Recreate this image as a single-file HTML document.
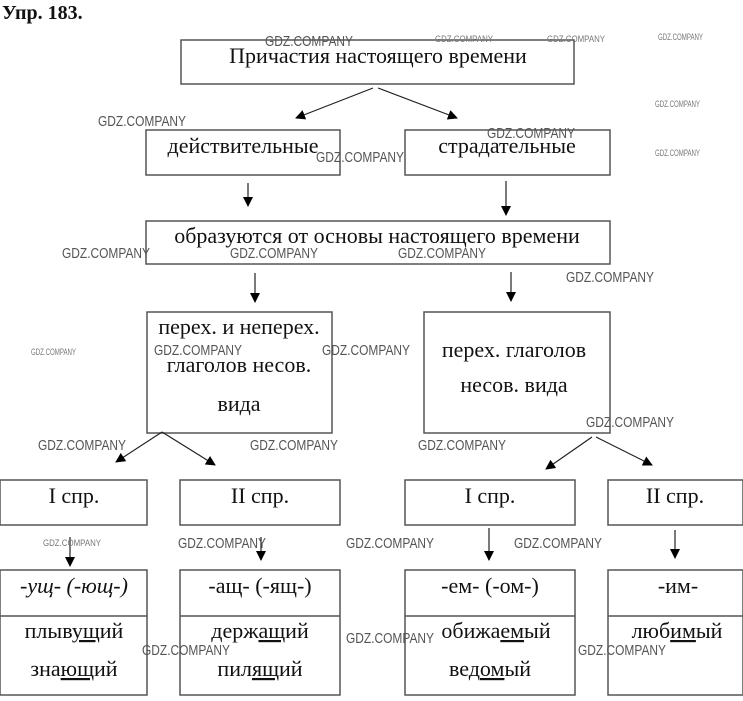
<!DOCTYPE html>
<html><head><meta charset="utf-8"><style>
html,body{margin:0;padding:0;background:#fff;}
svg{display:block}
.m text{font-family:"Liberation Serif",serif;fill:#111}
.u{text-decoration:underline}
.w text{font-family:"Liberation Sans",sans-serif;fill:#555;font-size:15px}
.ws text{font-family:"Liberation Sans",sans-serif;fill:#777;font-size:9px}
</style></head><body>
<svg width="743" height="701" viewBox="0 0 743 701" xmlns="http://www.w3.org/2000/svg">
<defs><marker id="a" markerWidth="10" markerHeight="10" refX="9" refY="5" orient="auto" markerUnits="userSpaceOnUse"><path d="M0,0 L10,5 L0,10 z" fill="#000"/></marker></defs>
<g fill="none" stroke="#555" stroke-width="1.5">
<rect x="181" y="40" width="393" height="44"/>
<rect x="146" y="130" width="194" height="45"/>
<rect x="405" y="130" width="205" height="45"/>
<rect x="146" y="221" width="464" height="43"/>
<rect x="147" y="312" width="185" height="121"/>
<rect x="424" y="312" width="186" height="121"/>
<rect x="0" y="480" width="147" height="45"/>
<rect x="180" y="480" width="160" height="45"/>
<rect x="405" y="480" width="170" height="45"/>
<rect x="608" y="480" width="135" height="45"/>
<rect x="0" y="570" width="147" height="125"/>
<rect x="180" y="570" width="160" height="125"/>
<rect x="405" y="570" width="170" height="125"/>
<rect x="608" y="570" width="135" height="125"/>
<line x1="0" y1="616" x2="147" y2="616"/>
<line x1="180" y1="616" x2="340" y2="616"/>
<line x1="405" y1="616" x2="575" y2="616"/>
<line x1="608" y1="616" x2="743" y2="616"/>
</g>
<g stroke="#222" stroke-width="1.2" marker-end="url(#a)">
<line x1="373" y1="88" x2="296" y2="118"/>
<line x1="378" y1="88" x2="457" y2="118"/>
<line x1="248" y1="183" x2="248" y2="206"/>
<line x1="506" y1="181" x2="506" y2="215"/>
<line x1="255" y1="273" x2="255" y2="302"/>
<line x1="511" y1="272" x2="511" y2="301"/>
<line x1="162" y1="432" x2="116" y2="462"/>
<line x1="162" y1="432" x2="215" y2="465"/>
<line x1="592" y1="437" x2="546" y2="469"/>
<line x1="596" y1="437" x2="652" y2="465"/>
<line x1="70" y1="537" x2="70" y2="566"/>
<line x1="261" y1="537" x2="261" y2="560"/>
<line x1="489" y1="528" x2="489" y2="560"/>
<line x1="675" y1="530" x2="675" y2="558"/>
</g>
<g class="m">
<text x="2" y="19" font-size="20" font-weight="bold">Упр. 183.</text>
<g font-size="22" text-anchor="middle">
<text x="378" y="63">Причастия настоящего времени</text>
<text x="243" y="153">действительные</text>
<text x="507" y="153">страдательные</text>
<text x="377" y="243">образуются от основы настоящего времени</text>
<text x="239" y="334">перех. и неперех.</text>
<text x="239" y="372">глаголов несов.</text>
<text x="239" y="411">вида</text>
<text x="514" y="357">перех. глаголов</text>
<text x="514" y="392">несов. вида</text>
<text x="74" y="503">I спр.</text>
<text x="260" y="503">II спр.</text>
<text x="490" y="503">I спр.</text>
<text x="675" y="503">II спр.</text>
<text x="74" y="593" font-style="italic">-ущ- (-ющ-)</text>
<text x="260" y="593">-ащ- (-ящ-)</text>
<text x="490" y="593">-ем- (-ом-)</text>
<text x="678" y="593">-им-</text>
<text x="74" y="638">плыв<tspan class="u">ущ</tspan>ий</text>
<text x="74" y="676">зна<tspan class="u">ющ</tspan>ий</text>
<text x="260" y="638">держ<tspan class="u">ащ</tspan>ий</text>
<text x="260" y="676">пил<tspan class="u">ящ</tspan>ий</text>
<text x="496" y="638">обижа<tspan class="u">ем</tspan>ый</text>
<text x="490" y="676">вед<tspan class="u">ом</tspan>ый</text>
<text x="677" y="638">люб<tspan class="u">им</tspan>ый</text>
</g>
</g>
<g class="w">
<text x="265" y="46" textLength="88" lengthAdjust="spacingAndGlyphs">GDZ.COMPANY</text>
<text x="98" y="126" textLength="88" lengthAdjust="spacingAndGlyphs">GDZ.COMPANY</text>
<text x="487" y="138" textLength="88" lengthAdjust="spacingAndGlyphs">GDZ.COMPANY</text>
<text x="316" y="162" textLength="88" lengthAdjust="spacingAndGlyphs">GDZ.COMPANY</text>
<text x="62" y="258" textLength="88" lengthAdjust="spacingAndGlyphs">GDZ.COMPANY</text>
<text x="230" y="258" textLength="88" lengthAdjust="spacingAndGlyphs">GDZ.COMPANY</text>
<text x="398" y="258" textLength="88" lengthAdjust="spacingAndGlyphs">GDZ.COMPANY</text>
<text x="566" y="282" textLength="88" lengthAdjust="spacingAndGlyphs">GDZ.COMPANY</text>
<text x="154" y="355" textLength="88" lengthAdjust="spacingAndGlyphs">GDZ.COMPANY</text>
<text x="322" y="355" textLength="88" lengthAdjust="spacingAndGlyphs">GDZ.COMPANY</text>
<text x="586" y="427" textLength="88" lengthAdjust="spacingAndGlyphs">GDZ.COMPANY</text>
<text x="38" y="450" textLength="88" lengthAdjust="spacingAndGlyphs">GDZ.COMPANY</text>
<text x="250" y="450" textLength="88" lengthAdjust="spacingAndGlyphs">GDZ.COMPANY</text>
<text x="418" y="450" textLength="88" lengthAdjust="spacingAndGlyphs">GDZ.COMPANY</text>
<text x="178" y="548" textLength="88" lengthAdjust="spacingAndGlyphs">GDZ.COMPANY</text>
<text x="346" y="548" textLength="88" lengthAdjust="spacingAndGlyphs">GDZ.COMPANY</text>
<text x="514" y="548" textLength="88" lengthAdjust="spacingAndGlyphs">GDZ.COMPANY</text>
<text x="346" y="643" textLength="88" lengthAdjust="spacingAndGlyphs">GDZ.COMPANY</text>
<text x="142" y="655" textLength="88" lengthAdjust="spacingAndGlyphs">GDZ.COMPANY</text>
<text x="578" y="655" textLength="88" lengthAdjust="spacingAndGlyphs">GDZ.COMPANY</text>
</g>
<g class="ws">
<text x="435" y="42" textLength="58" lengthAdjust="spacingAndGlyphs">GDZ.COMPANY</text>
<text x="547" y="42" textLength="58" lengthAdjust="spacingAndGlyphs">GDZ.COMPANY</text>
<text x="658" y="40" textLength="45" lengthAdjust="spacingAndGlyphs">GDZ.COMPANY</text>
<text x="655" y="107" textLength="45" lengthAdjust="spacingAndGlyphs">GDZ.COMPANY</text>
<text x="655" y="156" textLength="45" lengthAdjust="spacingAndGlyphs">GDZ.COMPANY</text>
<text x="31" y="355" textLength="45" lengthAdjust="spacingAndGlyphs">GDZ.COMPANY</text>
<text x="43" y="546" textLength="58" lengthAdjust="spacingAndGlyphs">GDZ.COMPANY</text>
</g>
</svg>
</body></html>
